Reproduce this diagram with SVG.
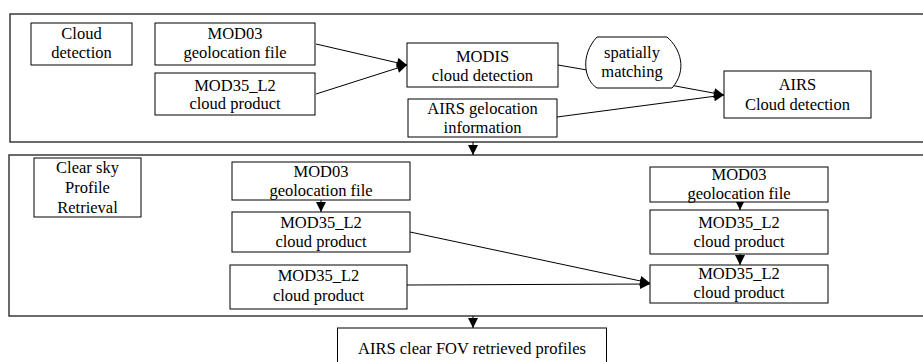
<svg xmlns="http://www.w3.org/2000/svg" width="923" height="362" viewBox="0 0 923 362">
<style>
.panel{fill:none;stroke:#3a3a3a;stroke-width:1.5}
.box{fill:#fff;stroke:#000;stroke-width:1}
.t{font-family:'Liberation Serif','Tinos','Times New Roman','Times','Noto Serif','DejaVu Serif',serif;font-size:16.5px;fill:#000;text-anchor:middle}
.c{fill:none;stroke:#000;stroke-width:1}
</style>
<defs>
<marker id="ah" viewBox="0 0 10 10" refX="10" refY="5" markerWidth="11" markerHeight="10" markerUnits="userSpaceOnUse" orient="auto">
<path d="M0,0 L10,5 L0,10 z" fill="#000"/>
</marker>
</defs>
<rect width="923" height="362" fill="#fff"/>
<g id="panel1"><rect class="panel" x="10" y="14" width="930" height="128"/></g>
<g id="panel2"><rect class="panel" x="9" y="155" width="930" height="161"/></g>

<g id="connectors">
<line class="c" x1="316" y1="44" x2="407" y2="65" marker-end="url(#ah)"/>
<line class="c" x1="316" y1="94" x2="407" y2="65" marker-end="url(#ah)"/>
<line class="c" x1="558" y1="65" x2="587" y2="70"/>
<line class="c" x1="670" y1="85" x2="724" y2="95" marker-end="url(#ah)"/>
<line class="c" x1="557" y1="117" x2="724" y2="95" marker-end="url(#ah)"/>
<line class="c" x1="473" y1="142" x2="473" y2="155" marker-end="url(#ah)"/>
<line class="c" x1="321" y1="200" x2="321" y2="212" marker-end="url(#ah)"/>
<line class="c" x1="410" y1="232" x2="650" y2="283" marker-end="url(#ah)"/>
<line class="c" x1="407" y1="285" x2="650" y2="284" marker-end="url(#ah)"/>
<line class="c" x1="740" y1="198" x2="740" y2="210" marker-end="url(#ah)"/>
<line class="c" x1="740" y1="253" x2="740" y2="265" marker-end="url(#ah)"/>
<line class="c" x1="473" y1="316" x2="473" y2="328" marker-end="url(#ah)"/>
</g>

<g id="cloud-detection-label"><rect class="box" x="31" y="23" width="101" height="42"/>
<text class="t" x="81.5" y="39">Cloud</text><text class="t" x="81.5" y="58">detection</text></g>
<g id="mod03-a"><rect class="box" x="155" y="23" width="160" height="42"/>
<text class="t" x="235" y="39">MOD03</text><text class="t" x="235" y="58">geolocation file</text></g>
<g id="mod35-a"><rect class="box" x="155" y="73" width="160" height="42"/>
<text class="t" x="235" y="91">MOD35_L2</text><text class="t" x="235" y="109">cloud product</text></g>
<g id="modis-cloud"><rect class="box" x="407" y="43" width="151" height="44"/>
<text class="t" x="482.5" y="62">MODIS</text><text class="t" x="482.5" y="81">cloud detection</text></g>
<g id="airs-geo"><rect class="box" x="408" y="99" width="149" height="38"/>
<text class="t" x="482.5" y="114">AIRS gelocation</text><text class="t" x="482.5" y="133">information</text></g>
<g id="spatially-matching"><path class="box" d="M597,37 L667,37 C680,48 688,70 672,88 L597,88 C584,80 580,55 597,37 Z"/>
<text class="t" x="632" y="58">spatially</text><text class="t" x="632" y="77">matching</text></g>
<g id="airs-cloud"><rect class="box" x="724" y="71" width="147" height="47"/>
<text class="t" x="797.5" y="90">AIRS</text><text class="t" x="797.5" y="110">Cloud detection</text></g>

<g id="clear-sky-label"><rect class="box" x="34" y="158" width="107" height="59"/>
<text class="t" x="87.5" y="173">Clear sky</text><text class="t" x="87.5" y="193">Profile</text><text class="t" x="87.5" y="213">Retrieval</text></g>
<g id="mod03-b"><rect class="box" x="232" y="162" width="178" height="38"/>
<text class="t" x="321" y="177">MOD03</text><text class="t" x="321" y="196">geolocation file</text></g>
<g id="mod35-b"><rect class="box" x="232" y="212" width="178" height="40"/>
<text class="t" x="321" y="228">MOD35_L2</text><text class="t" x="321" y="247">cloud product</text></g>
<g id="mod35-c"><rect class="box" x="230" y="265" width="177" height="44"/>
<text class="t" x="318.5" y="281">MOD35_L2</text><text class="t" x="318.5" y="301">cloud product</text></g>
<g id="mod03-d"><rect class="box" x="650" y="167" width="178" height="35"/>
<text class="t" x="739" y="180">MOD03</text><text class="t" x="739" y="199">geolocation file</text></g>
<g id="mod35-d"><rect class="box" x="650" y="210" width="178" height="44"/>
<text class="t" x="739" y="228">MOD35_L2</text><text class="t" x="739" y="247">cloud product</text></g>
<g id="mod35-e"><rect class="box" x="650" y="265" width="178" height="38"/>
<text class="t" x="739" y="279">MOD35_L2</text><text class="t" x="739" y="298">cloud product</text></g>

<g id="airs-clear-fov"><rect class="box" x="337.5" y="328" width="269" height="40"/>
<text class="t" x="472" y="354">AIRS clear FOV retrieved profiles</text></g>
</svg>
